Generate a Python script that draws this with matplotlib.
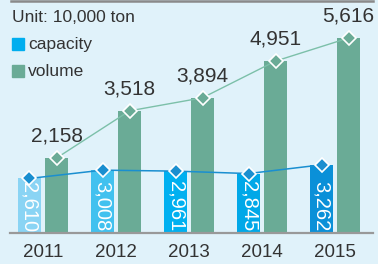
import matplotlib
matplotlib.use("Agg")
import matplotlib.pyplot as plt
from matplotlib.lines import Line2D
from matplotlib.patches import Rectangle

plt.rcParams['font.family'] = ['Liberation Sans', 'DejaVu Sans']

years = ["2011", "2012", "2013", "2014", "2015"]
capacity = [2610, 3008, 2961, 2845, 3262]
volume = [2158, 3518, 3894, 4951, 5616]
cap_labels = ["2,610", "3,008", "2,961", "2,845", "3,262"]
vol_labels = ["2,158", "3,518", "3,894", "4,951", "5,616"]
cap_colors = ["#8ad4f4", "#41c1ef", "#00b0f0", "#00a8e8", "#0a90d8"]

bg = "#e0f2fa"
green = "#6aab96"
blue_line = "#1a8fd0"
txt = "#333333"

fig = plt.figure(figsize=(3.78, 2.64), dpi=100, facecolor=bg)
W, H = 378, 264
rect = [10 / W, (H - 233) / H, 363 / W, 233 / H]

ax_c = fig.add_axes(rect)
ax_v = fig.add_axes(rect, sharex=ax_c)
ax_l = fig.add_axes(rect, sharex=ax_c)
for a in (ax_c, ax_v, ax_l):
    a.set_facecolor("none")
    for s in a.spines.values():
        s.set_visible(False)
    a.tick_params(left=False, right=False, bottom=False, top=False,
                  labelleft=False, labelbottom=False)

x = list(range(len(years)))
off = 0.185
bw = 0.31
xc = [i - off for i in x]
xv = [i + off for i in x]

cap_top = 11150
vol_top = 6710
ax_c.set_ylim(0, cap_top)
ax_l.set_ylim(0, cap_top)
ax_v.set_ylim(0, vol_top)
ax_c.set_xlim(-0.452, 4.52)

# capacity bars
ax_c.bar(xc, capacity, width=bw, color=cap_colors, zorder=2)
for xi, lab in zip(xc, cap_labels):
    ax_c.text(xi, 60, lab, rotation=-90, ha='center', va='bottom',
              color='white', fontsize=14.5, zorder=3)

# volume bars + line
ax_v.bar(xv, volume, width=bw, color=green, zorder=2)
ax_v.plot(xv, volume, color="#7cc0a9", lw=1.0, zorder=3)
ax_v.plot(xv, volume, ls='none', marker='D', ms=7, mfc=green, mec='white',
          mew=1.2, zorder=4)
for xi, v, lab in zip(xv, volume, vol_labels):
    ax_v.annotate(lab, (xi, v), xytext=(0, 9), textcoords='offset points',
                  ha='center', va='bottom', fontsize=15, color=txt)

# capacity line
ax_l.plot(xc, capacity, color=blue_line, lw=1.1, zorder=3)
ax_l.plot(xc, capacity, ls='none', marker='D', ms=7, mfc=blue_line, mec='white',
          mew=1.2, zorder=4)

# year labels
for xi, y in zip(x, years):
    ax_l.annotate(y, (xi, 0), xytext=(0, -14), textcoords='offset points',
                  ha='center', va='center', fontsize=13.5, color=txt,
                  annotation_clip=False)

# baseline and top line
fig.add_artist(Line2D([10 / W, 373 / W], [(H - 233) / H] * 2, color="#999999", lw=1.6))
fig.add_artist(Line2D([11 / W, 373 / W], [1 - 1 / H] * 2, color="#8a8a8a", lw=1.8))

# legend
fig.text(12 / W, 1 - 17 / H, "Unit: 10,000 ton", fontsize=12.5, color=txt,
         ha='left', va='center')
fig.add_artist(Rectangle((12 / W, 1 - 50 / H), 12 / W, 12 / H,
                         transform=fig.transFigure, color="#00aeef"))
fig.text(28 / W, 1 - 44 / H, "capacity", fontsize=12.5, color=txt,
         ha='left', va='center')
fig.add_artist(Rectangle((12 / W, 1 - 77 / H), 12 / W, 12 / H,
                         transform=fig.transFigure, color=green))
fig.text(28 / W, 1 - 71 / H, "volume", fontsize=12.5, color=txt,
         ha='left', va='center')

fig.savefig("out.png", dpi=100, facecolor=bg)
